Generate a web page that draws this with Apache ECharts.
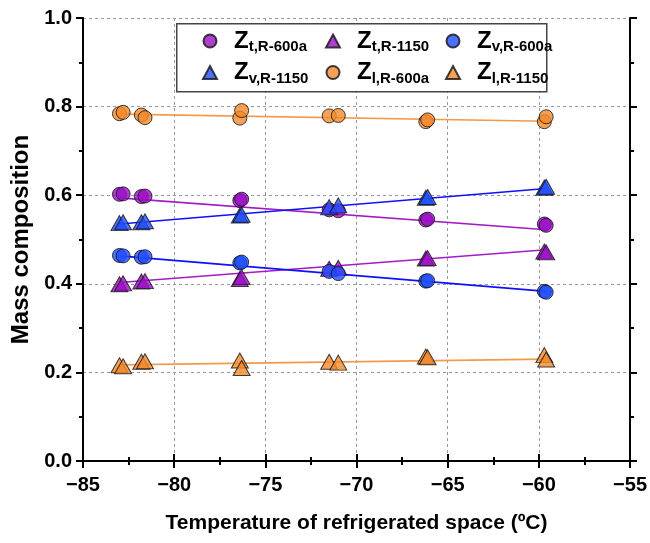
<!DOCTYPE html>
<html>
<head>
<meta charset="utf-8">
<script src="https://cdn.jsdelivr.net/npm/echarts@6/dist/echarts.min.js"></script>
<style>
  html, body { margin: 0; padding: 0; background: #fff; }
  #chart { width: 650px; height: 543px; }
</style>
</head>
<body>
<div id="chart"></div>
<script>
// 温度 (ºC)
const tempX = [-83.0, -82.8, -81.8, -81.6, -76.4, -76.3, -71.5, -71.0, -66.2, -66.1, -59.7, -59.6]
// 各组分质量分数
const ztR600a = [0.602, 0.603, 0.597, 0.598, 0.588, 0.591, 0.567, 0.565, 0.544, 0.546, 0.535, 0.532]
const ztR1150 = [0.399, 0.401, 0.405, 0.406, 0.411, 0.415, 0.434, 0.436, 0.457, 0.458, 0.473, 0.471]
const zvR600a = [0.464, 0.463, 0.460, 0.461, 0.447, 0.449, 0.428, 0.423, 0.406, 0.407, 0.383, 0.381]
const zvR1150 = [0.537, 0.539, 0.539, 0.541, 0.554, 0.556, 0.573, 0.577, 0.594, 0.596, 0.617, 0.619]
const zlR600a = [0.784, 0.787, 0.781, 0.775, 0.774, 0.791, 0.779, 0.780, 0.766, 0.770, 0.766, 0.777]
const zlR1150 = [0.216, 0.214, 0.224, 0.225, 0.227, 0.210, 0.224, 0.222, 0.236, 0.234, 0.239, 0.229]
// 拟合线端点
const fitX = [-83.0, -59.6]
const fitZtR600a = [0.594, 0.522]
const fitZtR1150 = [0.403, 0.477]
const fitZvR600a = [0.463, 0.383]
const fitZvR1150 = [0.535, 0.615]
const fitZlR600a = [0.783, 0.767]
const fitZlR1150 = [0.217, 0.230]
// 坐标轴
const xTicks = [-85, -80, -75, -70, -65, -60, -55]
const yTicks = [0.0, 0.2, 0.4, 0.6, 0.8, 1.0]

const FONT = "'Liberation Sans Narrow', 'Arial Narrow', 'Liberation Sans', Arial, sans-serif"
const PURPLE = '#9b0fc4'
const BLUE = '#1f4dff'
const ORANGE = '#f28a2c'

const pairs = (xs, ys) => xs.map((x, i) => [x, ys[i]])

const chart = echarts.init(document.getElementById('chart'))

const groups = [
  { name: 'Zt,R-600a', data: ztR600a, fit: fitZtR600a, color: PURPLE, line: '#a31bc9', symbol: 'circle' },
  { name: 'Zt,R-1150', data: ztR1150, fit: fitZtR1150, color: PURPLE, line: '#a31bc9', symbol: 'triangle' },
  { name: 'Zv,R-600a', data: zvR600a, fit: fitZvR600a, color: BLUE, line: '#1010ff', symbol: 'circle' },
  { name: 'Zv,R-1150', data: zvR1150, fit: fitZvR1150, color: BLUE, line: '#1010ff', symbol: 'triangle' },
  { name: 'Zl,R-600a', data: zlR600a, fit: fitZlR600a, color: ORANGE, line: '#f39a4a', symbol: 'circle' },
  { name: 'Zl,R-1150', data: zlR1150, fit: fitZlR1150, color: ORANGE, line: '#f39a4a', symbol: 'triangle' },
]

const getSeries = () => {
  const series = []
  // 拟合线 (底层)
  groups.forEach((g) => {
    series.push({
      name: g.name + ' fit',
      type: 'line',
      data: pairs(fitX, g.fit),
      showSymbol: false,
      silent: true,
      z: 1,
      lineStyle: { color: g.line, width: 1.6 },
    })
  })
  // 散点
  groups.forEach((g) => {
    series.push({
      name: g.name,
      type: 'scatter',
      data: pairs(tempX, g.data),
      symbol: g.symbol,
      symbolSize: g.symbol === 'circle' ? 14 : [17, 15],
      z: 3,
      itemStyle: { color: g.color, borderColor: '#111', borderWidth: 1 },
    })
  })
  return series
}

const legendRich = {
  z: { fontFamily: FONT, fontWeight: 'bold', fontSize: 24, color: '#000' },
  s: { fontFamily: FONT, fontWeight: 'bold', fontSize: 15, color: '#000', padding: [12, 0, 0, 0] },
}

const makeLegend = (names, left) => ({
  orient: 'vertical',
  left: left,
  top: 24,
  data: names,
  itemWidth: 14,
  itemHeight: 13,
  itemGap: 6,
  selectedMode: false,
  formatter: (name) => '{z|Z}{s|' + name.slice(1) + '}',
  textStyle: { rich: legendRich, padding: [0, 0, 0, 12] },
})

const axisLineStyle = { lineStyle: { color: '#000', width: 2 } }
const labelFont = { fontFamily: FONT, fontWeight: 'bold', fontSize: 20, color: '#000' }

const options = {
  animation: false,
  backgroundColor: '#fff',
  grid: { left: 83, right: 16, top: 18, bottom: 82 },
  legend: [
    makeLegend(['Zt,R-600a', 'Zv,R-1150'], 197),
    makeLegend(['Zt,R-1150', 'Zl,R-600a'], 320),
    makeLegend(['Zv,R-600a', 'Zl,R-1150'], 440),
  ],
  graphic: {
    elements: [
      {
        type: 'rect',
        left: 176,
        top: 23,
        z: 3,
        shape: { width: 370, height: 68 },
        style: { fill: '#fff', stroke: '#444', lineWidth: 1.5 },
      },
    ],
  },
  xAxis: [
    {
      type: 'value',
      min: xTicks[0],
      max: xTicks[xTicks.length - 1],
      interval: 5,
      name: 'Temperature of refrigerated space (ºC)',
      nameLocation: 'middle',
      nameGap: 52,
      nameTextStyle: { fontFamily: FONT, fontWeight: 'bold', fontSize: 21, color: '#000' },
      axisLine: axisLineStyle,
      axisTick: { length: 7, lineStyle: { color: '#000', width: 2 } },
      minorTick: { show: true, splitNumber: 2, length: 4, lineStyle: { color: '#000', width: 2 } },
      axisLabel: {
        ...labelFont,
        margin: 14,
        formatter: (v) => (v < 0 ? '\u2212' : '') + Math.abs(v),
      },
      splitLine: { show: true, lineStyle: { color: '#999', type: [3, 3], width: 1 } },
    },
    {
      type: 'value',
      position: 'top',
      min: xTicks[0],
      max: xTicks[xTicks.length - 1],
      interval: 5,
      axisLine: axisLineStyle,
      axisTick: { length: 7, lineStyle: { color: '#000', width: 2 } },
      minorTick: { show: true, splitNumber: 2, length: 4, lineStyle: { color: '#000', width: 2 } },
      axisLabel: { show: false },
      splitLine: { show: false },
    },
  ],
  yAxis: [
    {
      type: 'value',
      min: yTicks[0],
      max: yTicks[yTicks.length - 1],
      interval: 0.2,
      name: 'Mass composition',
      nameLocation: 'middle',
      nameGap: 50,
      nameTextStyle: { fontFamily: FONT, fontWeight: 'bold', fontSize: 24, color: '#000' },
      axisLine: axisLineStyle,
      axisTick: { length: 7, lineStyle: { color: '#000', width: 2 } },
      minorTick: { show: true, splitNumber: 2, length: 4, lineStyle: { color: '#000', width: 2 } },
      axisLabel: { ...labelFont, margin: 11, formatter: (v) => v.toFixed(1) },
      splitLine: { show: true, lineStyle: { color: '#999', type: [3, 3], width: 1 } },
    },
    {
      type: 'value',
      position: 'right',
      min: yTicks[0],
      max: yTicks[yTicks.length - 1],
      interval: 0.2,
      axisLine: axisLineStyle,
      axisTick: { length: 7, lineStyle: { color: '#000', width: 2 } },
      minorTick: { show: true, splitNumber: 2, length: 4, lineStyle: { color: '#000', width: 2 } },
      axisLabel: { show: false },
      splitLine: { show: false },
    },
  ],
  series: getSeries(),
}

chart.setOption(options)
</script>
</body>
</html>
